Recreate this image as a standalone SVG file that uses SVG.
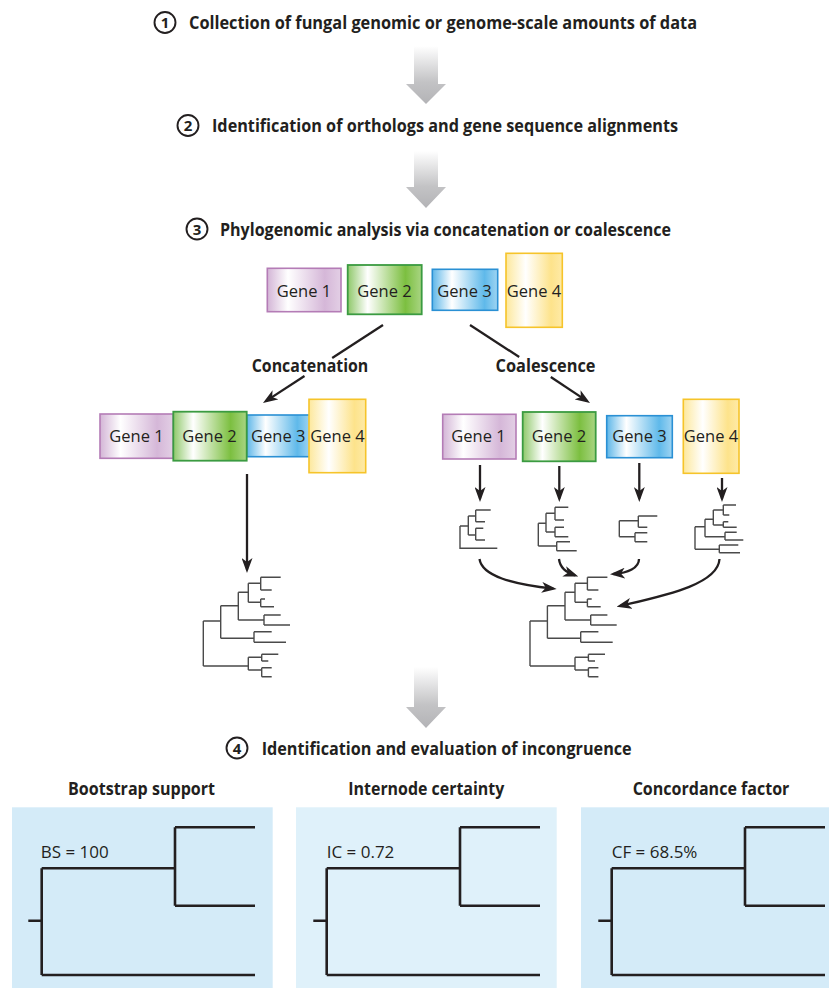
<svg xmlns="http://www.w3.org/2000/svg" width="829" height="988" viewBox="0 0 829 988">
<style>
text{font-family:"Open Sans","Liberation Sans",sans-serif;fill:#231f20}
.h{font-size:18px;font-weight:700}
.num{font-size:15px;font-weight:700;text-anchor:middle}
.g{font-size:16.5px;text-anchor:middle}
.lab{font-size:17px}
.circ{fill:#fff;stroke:#231f20;stroke-width:1.9}
.bigarrow{fill:url(#grayGrad)}
.conn{fill:none;stroke:#231f20;stroke-width:2.3}
.tree{fill:none;stroke:#4a4a4a;stroke-width:1.4}
.ptree{fill:none;stroke:#231f20;stroke-width:2.6}
</style>
<defs>
<linearGradient id="grayGrad" x1="0" y1="0" x2="0" y2="1">
<stop offset="0" stop-color="#ffffff"/>
<stop offset="0.62" stop-color="#c3c3c5"/>
<stop offset="1" stop-color="#b3b3b6"/>
</linearGradient>
<linearGradient id="gP" x1="0" y1="0" x2="1" y2="0">
<stop offset="0" stop-color="#d3b5d6"/><stop offset="0.28" stop-color="#ffffff"/><stop offset="0.78" stop-color="#d5b7d8"/><stop offset="1" stop-color="#e3cfe5"/>
</linearGradient>
<linearGradient id="gG" x1="0" y1="0" x2="1" y2="0">
<stop offset="0" stop-color="#8fc86a"/><stop offset="0.27" stop-color="#ffffff"/><stop offset="0.78" stop-color="#7cbf40"/><stop offset="1" stop-color="#a9d583"/>
</linearGradient>
<linearGradient id="gB" x1="0" y1="0" x2="1" y2="0">
<stop offset="0" stop-color="#5db6e8"/><stop offset="0.3" stop-color="#ffffff"/><stop offset="0.8" stop-color="#5fb9ea"/><stop offset="1" stop-color="#9fd4f2"/>
</linearGradient>
<linearGradient id="gY" x1="0" y1="0" x2="1" y2="0">
<stop offset="0" stop-color="#fde89c"/><stop offset="0.35" stop-color="#ffffff"/><stop offset="0.8" stop-color="#fde38b"/><stop offset="1" stop-color="#feeaa7"/>
</linearGradient>
<marker id="ah" markerUnits="userSpaceOnUse" markerWidth="15" markerHeight="11" refX="11.5" refY="5.5" orient="auto" viewBox="0 0 15 11">
<path d="M0,0 L15,5.5 L0,11 L4,5.5 z" fill="#231f20"/>
</marker>
<path id="bigtree" d="M203.3,621V666 M203.3,621H220.7 M220.7,605.7V638.3 M220.7,605.7H238.3 M238.3,592.3V620 M238.3,592.3H248.3 M248.3,583.3V602.3 M248.3,583.3H260.7 M260.7,577.3V590 M260.7,577.3H280.7 M260.7,590H271.7 M248.3,602.3H260.7 M260.7,599V606.7 M260.7,599H265 M260.7,606.7H274 M238.3,620H264 M264,615V625 M264,615H280.7 M264,625H290 M220.7,638.3H254 M254,631.7V642.3 M254,631.7H271.7 M254,642.3H286 M203.3,666H248.3 M248.3,657.3V670 M248.3,657.3H261.7 M261.7,654.3V661 M261.7,654.3H278.3 M261.7,661H268.3 M248.3,670H261.7 M261.7,667.7V676.7 M261.7,667.7H271.7 M261.7,676.7H271.7"/>
<path id="ptree" d="M28.3,920.7H41.7 M41.7,868.3V975 M41.7,868.3H175 M175,827.3V905.7 M175,827.3H255 M175,905.7H255 M41.7,975H255"/>
</defs>

<g id="step1">
<circle class="circ" cx="165" cy="22.5" r="10.5"/>
<text class="num" x="165" y="28">1</text>
<text class="h" x="189" y="29" textLength="508" lengthAdjust="spacingAndGlyphs">Collection of fungal genomic or genome-scale amounts of data</text>
</g>
<g id="arrow1"><path class="bigarrow" d="M414,46H438V84H446L426,104L406,84H414Z"/></g>

<g id="step2">
<circle class="circ" cx="188" cy="125.5" r="10.5"/>
<text class="num" x="188" y="131">2</text>
<text class="h" x="212" y="132" textLength="466" lengthAdjust="spacingAndGlyphs">Identification of orthologs and gene sequence alignments</text>
</g>
<g id="arrow2"><path class="bigarrow" d="M414,151H438V187H446L426,208L406,187H414Z"/></g>

<g id="step3">
<circle class="circ" cx="197" cy="229" r="10.5"/>
<text class="num" x="197" y="234.5">3</text>
<text class="h" x="220" y="235.5" textLength="451" lengthAdjust="spacingAndGlyphs">Phylogenomic analysis via concatenation or coalescence</text>
</g>

<g id="genes-top">
<g id="top-gene1"><rect x="267.3" y="268.3" width="73.7" height="43.4" fill="url(#gP)" stroke="#b47cb6" stroke-width="1.6"/><text class="g" x="304" y="296.5">Gene 1</text></g>
<g id="top-gene2"><rect x="347.7" y="265" width="74" height="49.3" fill="url(#gG)" stroke="#3b9b41" stroke-width="1.8"/><text class="g" x="384.5" y="296.5">Gene 2</text></g>
<g id="top-gene3"><rect x="432.3" y="269.3" width="65.4" height="41" fill="url(#gB)" stroke="#2a90d4" stroke-width="1.6"/><text class="g" x="464.5" y="296.5">Gene 3</text></g>
<g id="top-gene4"><rect x="506" y="253.3" width="56.3" height="74" fill="url(#gY)" stroke="#f6c42a" stroke-width="1.6"/><text class="g" x="534" y="296.5">Gene 4</text></g>
</g>

<g id="label-concatenation"><text class="h" x="251.7" y="372" textLength="116.6" lengthAdjust="spacingAndGlyphs">Concatenation</text></g>
<g id="label-coalescence"><text class="h" x="495.5" y="372" textLength="100" lengthAdjust="spacingAndGlyphs">Coalescence</text></g>

<g id="genes-concat">
<g id="cat-gene1"><rect x="100" y="414" width="73.3" height="44.3" fill="url(#gP)" stroke="#b47cb6" stroke-width="1.6"/><text class="g" x="136.5" y="442">Gene 1</text></g>
<g id="cat-gene3"><rect x="246.7" y="415" width="63.3" height="41.7" fill="url(#gB)" stroke="#2a90d4" stroke-width="1.6"/><text class="g" x="278.3" y="442">Gene 3</text></g>
<g id="cat-gene2"><rect x="173.3" y="411.7" width="73.4" height="49" fill="url(#gG)" stroke="#3b9b41" stroke-width="1.8"/><text class="g" x="209.5" y="442">Gene 2</text></g>
<g id="cat-gene4"><rect x="309" y="399.3" width="56.7" height="73.4" fill="url(#gY)" stroke="#f6c42a" stroke-width="1.6"/><text class="g" x="337.5" y="442">Gene 4</text></g>
</g>

<g id="genes-coal">
<g id="coal-gene1"><rect x="442.7" y="414.3" width="73.3" height="44.7" fill="url(#gP)" stroke="#b47cb6" stroke-width="1.6"/><text class="g" x="478.5" y="441.5">Gene 1</text></g>
<g id="coal-gene2"><rect x="522.7" y="412" width="73" height="49.3" fill="url(#gG)" stroke="#3b9b41" stroke-width="1.8"/><text class="g" x="559" y="441.5">Gene 2</text></g>
<g id="coal-gene3"><rect x="606.7" y="415.7" width="65.6" height="42" fill="url(#gB)" stroke="#2a90d4" stroke-width="1.6"/><text class="g" x="639.5" y="441.5">Gene 3</text></g>
<g id="coal-gene4"><rect x="683.3" y="399.3" width="55.7" height="74" fill="url(#gY)" stroke="#f6c42a" stroke-width="1.6"/><text class="g" x="711" y="441.5">Gene 4</text></g>
</g>

<g id="connectors">
<path class="conn" d="M383,325L332.2,358"/>
<path class="conn" d="M304.5,376L265.9,401.1" marker-end="url(#ah)"/>
<path class="conn" d="M470,325L519.2,357"/>
<path class="conn" d="M550.8,377L587.1,401.1" marker-end="url(#ah)"/>
<path class="conn" d="M247,474V569.5" marker-end="url(#ah)"/>
<path class="conn" d="M480,465V498.5" marker-end="url(#ah)"/>
<path class="conn" d="M559.3,466V498.5" marker-end="url(#ah)"/>
<path class="conn" d="M639.3,463V498.5" marker-end="url(#ah)"/>
<path class="conn" d="M722,478V498.5" marker-end="url(#ah)"/>
<path class="conn" d="M479.5,559C482,576 512,584 553.2,588.7" marker-end="url(#ah)"/>
<path class="conn" d="M559,559C560,568 566,572 575,575.3" marker-end="url(#ah)"/>
<path class="conn" d="M639,559C639,568 628,573 613.5,574" marker-end="url(#ah)"/>
<path class="conn" d="M719.5,559C718,585 662,596 620,606" marker-end="url(#ah)"/>
</g>

<g id="gene-tree-1"><path class="tree" d="M460,526V548.3H497.3 M460,526H468.3 M468.3,516V535 M468.3,516H475.7 M475.7,510V521.7 M475.7,510H490.7 M475.7,521.7H485 M468.3,535H475.7 M475.7,528.3V540 M475.7,528.3H483.3 M475.7,540H485"/></g>
<g id="gene-tree-2"><path class="tree" d="M538.3,523.3V546 M538.3,523.3H546 M546,513.3V532 M546,513.3H555 M555,507.3V520 M555,507.3H568.3 M555,520H564 M546,532H555 M555,527.3V536.7 M555,527.3H564 M555,536.7H568.3 M538.3,546H556.7 M556.7,541.7V550.7 M556.7,541.7H570 M556.7,550.7H576.7"/></g>
<g id="gene-tree-3"><path class="tree" d="M619.3,520.7V536.7 M619.3,520.7H638.3 M638.3,516V527.3 M638.3,516H657.3 M638.3,527.3H647.3 M619.3,536.7H635 M635,532.7V541.7 M635,532.7H647.3 M635,541.7H647.3"/></g>
<g id="gene-tree-4"><path class="tree" d="M695,526.7V549.3 M695,526.7H705 M705,519.3V536.7 M705,519.3H713.3 M713.3,510V525 M713.3,510H723.3 M723.3,505V515 M723.3,505H736 M723.3,515H729.3 M713.3,525H723.3 M723.3,521.7V527.3 M723.3,521.7H728.3 M723.3,527.3H736.7 M705,536.7H725 M725,532.3V540 M725,532.3H736.7 M725,540H743.3 M695,549.3H719.3 M719.3,545V552.7 M719.3,545H738.3 M719.3,552.7H740"/></g>

<g id="concat-tree"><use href="#bigtree" class="tree"/></g>
<g id="species-tree"><use href="#bigtree" class="tree" transform="translate(326.7,0)"/></g>

<g id="arrow3"><path class="bigarrow" d="M414,667H438V707H446L426,728L406,707H414Z"/></g>
<g id="step4">
<circle class="circ" cx="237" cy="748" r="10.5"/>
<text class="num" x="237" y="753.5">4</text>
<text class="h" x="261.7" y="754.5" textLength="370" lengthAdjust="spacingAndGlyphs">Identification and evaluation of incongruence</text>
</g>

<g id="panel-bootstrap">
<text class="h" x="141.5" y="795" text-anchor="middle" textLength="147" lengthAdjust="spacingAndGlyphs">Bootstrap support</text>
<rect x="12" y="807.3" width="260.7" height="181" fill="#d4ebf8"/>
<use href="#ptree" class="ptree"/>
<text class="lab" x="40.7" y="858.3">BS = 100</text>
</g>
<g id="panel-internode">
<text class="h" x="426.3" y="795" text-anchor="middle" textLength="156" lengthAdjust="spacingAndGlyphs">Internode certainty</text>
<rect x="296" y="807.3" width="260.7" height="181" fill="#dff1fa"/>
<use href="#ptree" class="ptree" transform="translate(285,0)"/>
<text class="lab" x="326.7" y="858.3">IC = 0.72</text>
</g>
<g id="panel-concordance">
<text class="h" x="711" y="795" text-anchor="middle" textLength="156.7" lengthAdjust="spacingAndGlyphs">Concordance factor</text>
<rect x="581" y="807.3" width="260.7" height="181" fill="#d4ebf8"/>
<use href="#ptree" class="ptree" transform="translate(570,0)"/>
<text class="lab" x="611.7" y="858.3">CF = 68.5%</text>
</g>
</svg>
